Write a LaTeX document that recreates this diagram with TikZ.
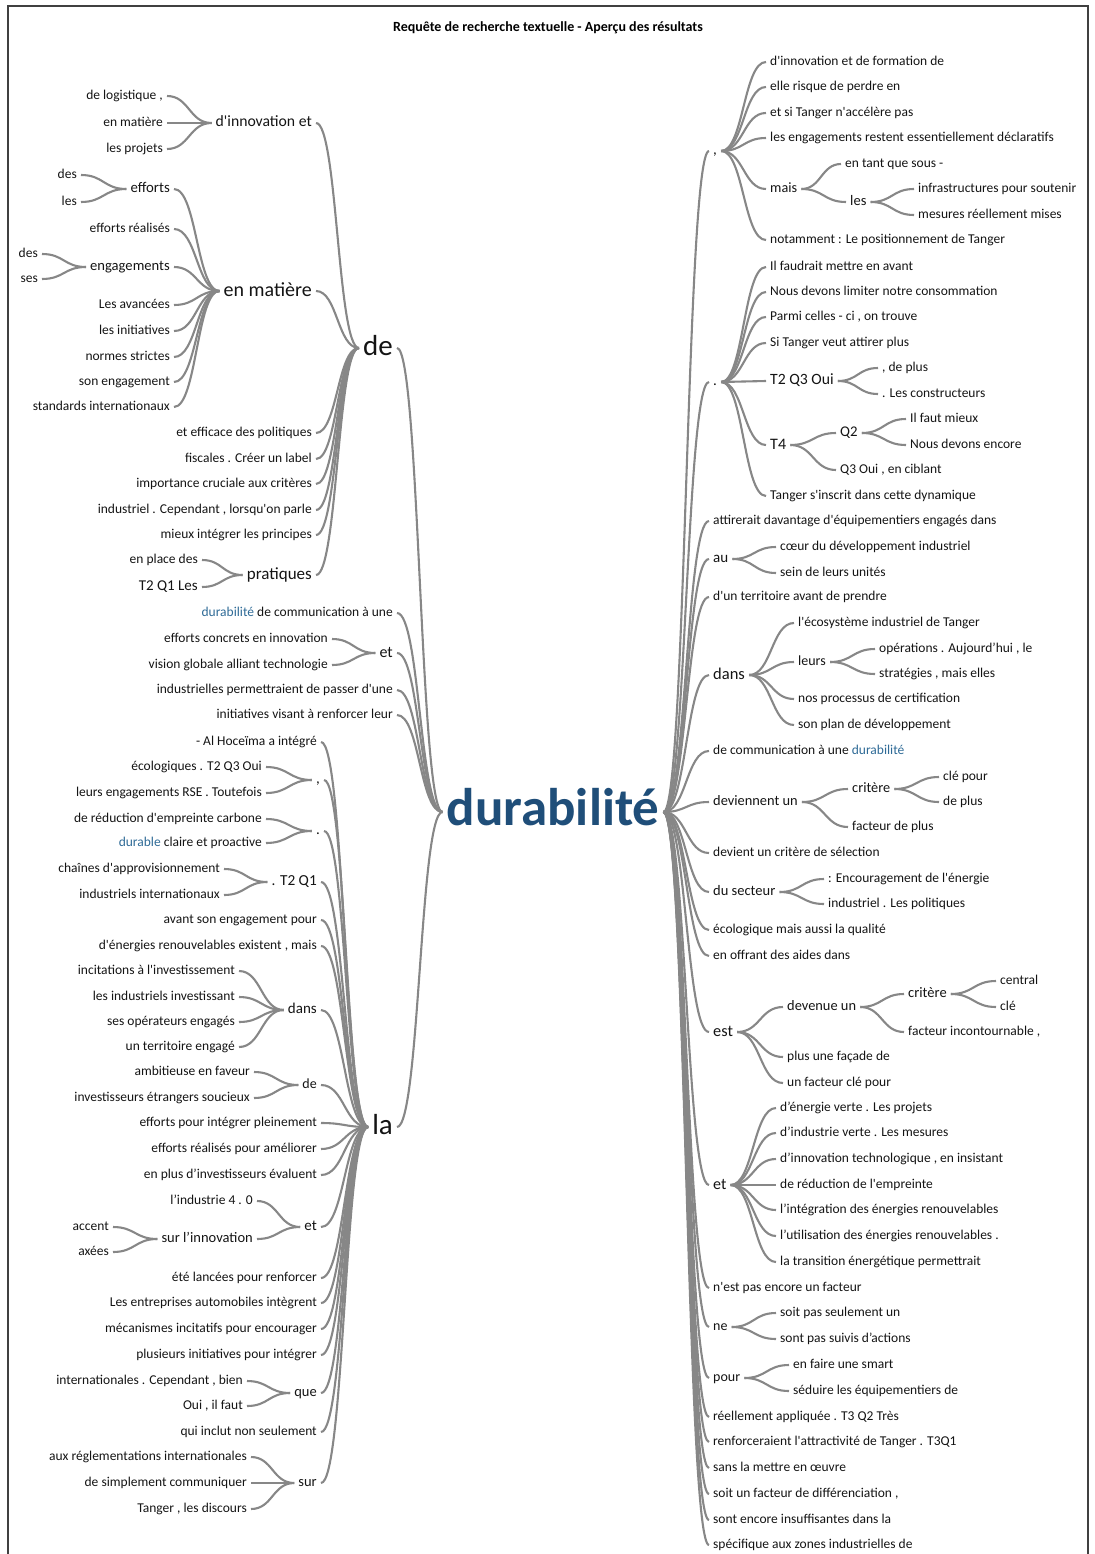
\documentclass[tikz,border=0pt]{standalone}
\usepackage{fontspec}
\setmainfont{Carlito}[Ligatures=TeXOff]
\usetikzlibrary{calc}

\definecolor{treeblue}{RGB}{31,78,121}
\definecolor{hitblue}{RGB}{46,106,150}
\definecolor{linkgray}{RGB}{135,135,135}
\newcommand{\fsz}[1]{\fontsize{#1}{#1}\selectfont}
\newcommand{\hit}[1]{\textcolor{hitblue}{#1}}
\newcommand{\wl}[2]{\draw[link] let \p1=(#1.east), \p2=(#2.west) in
  (\p1) .. controls ({(\x1+\x2)/2},\y1) and ({(\x1+\x2)/2},\y2) .. (\p2);}

\begin{document}
\begin{tikzpicture}[x=1pt, y=-1pt]
  \tikzset{
    wd/.style={font=\fsz{#1}, text height=#1*0.72pt, text depth=#1*0.22pt,
      inner sep=0pt, text=black!92},
    lw/.style={wd=#1, anchor=east}, lw/.default=13.5,
    rw/.style={wd=#1, anchor=west}, rw/.default=13.5,
    link/.style={draw=linkgray, line width=2.1pt, shorten <=4pt, shorten >=4pt}
  }
  \useasboundingbox (0,0) rectangle (1094,1554);
  \draw[black!75, line width=1.3pt] (8,1560) |- (1088,6) -- (1088,1560);
  \node[font=\bfseries\fsz{14}, text=black] (title) at (548,28)
    {Requête de recherche textuelle - Aperçu des résultats};

  \node[wd=53, font=\bfseries\fsz{53}, text=treeblue] (dur) at (553,812) {durabilité};

  % left half
  \node[lw=29] (de) at (393,348) {de};
  \node[lw=29] (la) at (393,1127) {la};
  \node[lw=15.7] (inno) at (312,123) {d'innovation et};
  \node[lw=20] (mat) at (312,291) {en matière};
  \node[lw=14.8] (eff) at (170,189) {efforts};
  \node[lw=14.6] (eng) at (170,267) {engagements};
  \node[lw=17] (prat) at (312,575) {pratiques};
  \node[lw=16] (let) at (393,653) {et};
  \node[lw=15] (lcom) at (320,780) {,};
  \node[lw=15] (ldot) at (320,831) {.};
  \node[lw=15.3] (lt2q1) at (317,882) {. T2 Q1};
  \node[lw=15] (ldans) at (317,1010) {dans};
  \node[lw=14] (lde) at (317,1085) {de};
  \node[lw=15] (let2) at (317,1227) {et};
  \node[lw=14.5] (sinn) at (253,1239) {sur l’innovation};
  \node[lw=14.5] (que) at (317,1393) {que};
  \node[lw=14.5] (sur) at (317,1483) {sur};
  \foreach \nd in {de,let,la} \wl{\nd}{dur};
  \foreach \nd in {inno,mat,prat} \wl{\nd}{de};
  \foreach \nd in {eff,eng} \wl{\nd}{mat};
  \foreach \nd in {lcom,ldot,lt2q1,ldans,lde,let2,que,sur} \wl{\nd}{la};
  \wl{sinn}{let2}

  \foreach \txt/\ypos [count=\i] in {{de logistique ,}/96, en matière/123, les projets/149}
    {\node[lw] (inn\i) at (163,\ypos) {\txt}; \wl{inn\i}{inno}}
  \foreach \txt/\ypos [count=\i] in {des/175, les/202}
    {\node[lw] (ef\i) at (77,\ypos) {\txt}; \wl{ef\i}{eff}}
  \foreach \txt/\ypos [count=\i] in {des/254, ses/279}
    {\node[lw] (en\i) at (38,\ypos) {\txt}; \wl{en\i}{eng}}
  \foreach \txt/\ypos [count=\i] in {efforts réalisés/229, Les avancées/305, les initiatives/331,
      normes strictes/357, son engagement/382, standards internationaux/407}
    {\node[lw] (ma\i) at (170,\ypos) {\txt}; \wl{ma\i}{mat}}
  \foreach \txt/\ypos [count=\i] in {et efficace des politiques/433, fiscales . Créer un label/459,
      importance cruciale aux critères/484, {industriel . Cependant , lorsqu'on parle}/510,
      mieux intégrer les principes/535}
    {\node[lw] (dd\i) at (312,\ypos) {\txt}; \wl{dd\i}{de}}
  \node[lw] (pr1) at (198,560) {en place des};
  \node[lw=15] (pr2) at (198,587) {T2 Q1 Les};
  \wl{pr1}{prat} \wl{pr2}{prat}
  \foreach \txt/\ypos [count=\i] in {\hit{durabilité} de communication à une/613,
      industrielles permettraient de passer d'une/690, initiatives visant à renforcer leur/715}
    {\node[lw] (dl\i) at (393,\ypos) {\txt}; \wl{dl\i}{dur}}
  \foreach \txt/\ypos [count=\i] in {efforts concrets en innovation/639, vision globale alliant technologie/665}
    {\node[lw] (et\i) at (328,\ypos) {\txt}; \wl{et\i}{let}}
  \foreach \txt/\ypos [count=\i] in {- Al Hoceïma a intégré/742, avant son engagement pour/920,
      {d'énergies renouvelables existent , mais}/946, efforts pour intégrer pleinement/1123,
      efforts réalisés pour améliorer/1149, en plus d’investisseurs évaluent/1175,
      été lancées pour renforcer/1278, Les entreprises automobiles intègrent/1303,
      mécanismes incitatifs pour encourager/1329, plusieurs initiatives pour intégrer/1355,
      qui inclut non seulement/1432}
    {\node[lw] (la\i) at (317,\ypos) {\txt}; \wl{la\i}{la}}
  \foreach \txt/\ypos [count=\i] in {écologiques . T2 Q3 Oui/767, leurs engagements RSE . Toutefois/793}
    {\node[lw] (lc\i) at (262,\ypos) {\txt}; \wl{lc\i}{lcom}}
  \foreach \txt/\ypos [count=\i] in {de réduction d'empreinte carbone/819, \hit{durable} claire et proactive/843}
    {\node[lw] (ld\i) at (262,\ypos) {\txt}; \wl{ld\i}{ldot}}
  \foreach \txt/\ypos [count=\i] in {chaînes d'approvisionnement/869, industriels internationaux/895}
    {\node[lw] (tq\i) at (220,\ypos) {\txt}; \wl{tq\i}{lt2q1}}
  \foreach \txt/\ypos [count=\i] in {incitations à l'investissement/971, les industriels investissant/997,
      ses opérateurs engagés/1022, un territoire engagé/1047}
    {\node[lw] (di\i) at (235,\ypos) {\txt}; \wl{di\i}{ldans}}
  \foreach \txt/\ypos [count=\i] in {ambitieuse en faveur/1072, investisseurs étrangers soucieux/1098}
    {\node[lw] (fa\i) at (250,\ypos) {\txt}; \wl{fa\i}{lde}}
  \node[lw] (ind) at (253,1201) {l’industrie 4 . 0};
  \wl{ind}{let2}
  \foreach \txt/\ypos [count=\i] in {accent/1227, axées/1252}
    {\node[lw] (si\i) at (109,\ypos) {\txt}; \wl{si\i}{sinn}}
  \foreach \txt/\ypos [count=\i] in {{internationales . Cependant , bien}/1381, {Oui , il faut}/1406}
    {\node[lw] (qu\i) at (243,\ypos) {\txt}; \wl{qu\i}{que}}
  \foreach \txt/\ypos [count=\i] in {aux réglementations internationales/1457, de simplement communiquer/1483,
      {Tanger , les discours}/1509}
    {\node[lw] (su\i) at (247,\ypos) {\txt}; \wl{su\i}{sur}}

  % right half
  \node[rw=15] (rcom) at (713,151) {,};
  \node[rw=14.2] (mais) at (770,189) {mais};
  \node[rw=14.5] (les) at (850,202) {les};
  \node[rw=15] (rdot) at (713,382) {.};
  \node[rw=15.7] (oui) at (770,381) {T2 Q3 Oui};
  \node[rw=16] (t4) at (770,445) {T4};
  \node[rw=14.8] (q2) at (840,433) {Q2};
  \node[rw=15] (au) at (713,559) {au};
  \node[rw=16.5] (rdans) at (713,675) {dans};
  \node[rw=14] (leurs) at (798,662) {leurs};
  \node[rw=14.4] (devn) at (713,802) {deviennent un};
  \node[rw=14.3] (crit) at (852,789) {critère};
  \node[rw=14.5] (sect) at (713,892) {du secteur};
  \node[rw=16.3] (est) at (713,1032) {est};
  \node[rw=14.4] (deve) at (787,1007) {devenue un};
  \node[rw=14.5] (crit2) at (908,994) {critère};
  \node[rw=16] (ret) at (713,1185) {et};
  \node[rw=14] (ne) at (713,1327) {ne};
  \node[rw=14] (pour) at (713,1378) {pour};
  \foreach \nd in {rcom,rdot,au,rdans,devn,sect,est,ret,ne,pour} \wl{dur}{\nd};
  \wl{rcom}{mais} \wl{mais}{les} \wl{rdot}{oui} \wl{rdot}{t4} \wl{t4}{q2}
  \wl{rdans}{leurs} \wl{devn}{crit} \wl{est}{deve} \wl{deve}{crit2}

  \foreach \txt/\ypos [count=\i] in {d'innovation et de formation de/62, elle risque de perdre en/87,
      et si Tanger n'accélère pas/113, les engagements restent essentiellement déclaratifs/138,
      notamment : Le positionnement de Tanger/240}
    {\node[rw] (rc\i) at (770,\ypos) {\txt}; \wl{rcom}{rc\i}}
  \node[rw] (sous) at (845,164) {en tant que sous -};
  \wl{mais}{sous}
  \foreach \txt/\ypos [count=\i] in {infrastructures pour soutenir/189, mesures réellement mises/215}
    {\node[rw] (ls\i) at (918,\ypos) {\txt}; \wl{les}{ls\i}}
  \foreach \txt/\ypos [count=\i] in {Il faudrait mettre en avant/267, Nous devons limiter notre consommation/292,
      {Parmi celles - ci , on trouve}/317, Si Tanger veut attirer plus/343,
      Tanger s'inscrit dans cette dynamique/496}
    {\node[rw] (rd\i) at (770,\ypos) {\txt}; \wl{rdot}{rd\i}}
  \foreach \txt/\ypos [count=\i] in {{, de plus}/368, . Les constructeurs/394}
    {\node[rw] (ou\i) at (882,\ypos) {\txt}; \wl{oui}{ou\i}}
  \node[rw] (q3) at (840,470) {Q3 Oui , en ciblant};
  \wl{t4}{q3}
  \foreach \txt/\ypos [count=\i] in {Il faut mieux/419, Nous devons encore/445}
    {\node[rw] (qq\i) at (910,\ypos) {\txt}; \wl{q2}{qq\i}}
  \foreach \txt/\ypos [count=\i] in {attirerait davantage d'équipementiers engagés dans/521,
      d'un territoire avant de prendre/597, de communication à une \hit{durabilité}/751,
      devient un critère de sélection/853, écologique mais aussi la qualité/930,
      en offrant des aides dans/956, n'est pas encore un facteur/1288,
      réellement appliquée . T3 Q2 Très/1417, renforceraient l'attractivité de Tanger . T3Q1/1442,
      sans la mettre en œuvre/1468, {soit un facteur de différenciation ,}/1494,
      sont encore insuffisantes dans la/1520, spécifique aux zones industrielles de/1545}
    {\node[rw] (dr\i) at (713,\ypos) {\txt}; \wl{dur}{dr\i}}
  \foreach \txt/\ypos [count=\i] in {cœur du développement industriel/547, sein de leurs unités/573}
    {\node[rw] (au\i) at (780,\ypos) {\txt}; \wl{au}{au\i}}
  \foreach \txt/\ypos [count=\i] in {l'écosystème industriel de Tanger/623, nos processus de certification/699,
      son plan de développement/725}
    {\node[rw] (da\i) at (798,\ypos) {\txt}; \wl{rdans}{da\i}}
  \foreach \txt/\ypos [count=\i] in {{opérations . Aujourd’hui , le}/649, {stratégies , mais elles}/674}
    {\node[rw] (lr\i) at (879,\ypos) {\txt}; \wl{leurs}{lr\i}}
  \node[rw] (fdp) at (852,827) {facteur de plus};
  \wl{devn}{fdp}
  \foreach \txt/\ypos [count=\i] in {clé pour/777, de plus/802}
    {\node[rw] (cr\i) at (943,\ypos) {\txt}; \wl{crit}{cr\i}}
  \foreach \txt/\ypos [count=\i] in {: Encouragement de l'énergie/879, industriel . Les politiques/904}
    {\node[rw] (se\i) at (828,\ypos) {\txt}; \wl{sect}{se\i}}
  \foreach \txt/\ypos [count=\i] in {plus une façade de/1057, un facteur clé pour/1083}
    {\node[rw] (es\i) at (787,\ypos) {\txt}; \wl{est}{es\i}}
  \node[rw] (finc) at (908,1032) {facteur incontournable ,};
  \wl{deve}{finc}
  \foreach \txt/\ypos [count=\i] in {central/981, clé/1007}
    {\node[rw] (cc\i) at (1000,\ypos) {\txt}; \wl{crit2}{cc\i}}
  \foreach \txt/\ypos [count=\i] in {d’énergie verte . Les projets/1108, d’industrie verte . Les mesures/1133,
      {d’innovation technologique , en insistant}/1159, de réduction de l'empreinte/1185,
      l’intégration des énergies renouvelables/1210, l’utilisation des énergies renouvelables ./1236,
      la transition énergétique permettrait/1262}
    {\node[rw] (re\i) at (780,\ypos) {\txt}; \wl{ret}{re\i}}
  \foreach \txt/\ypos [count=\i] in {soit pas seulement un/1313, sont pas suivis d’actions/1339}
    {\node[rw] (ne\i) at (780,\ypos) {\txt}; \wl{ne}{ne\i}}
  \foreach \txt/\ypos [count=\i] in {en faire une smart/1365, séduire les équipementiers de/1391}
    {\node[rw] (po\i) at (793,\ypos) {\txt}; \wl{pour}{po\i}}
\end{tikzpicture}
\end{document}
